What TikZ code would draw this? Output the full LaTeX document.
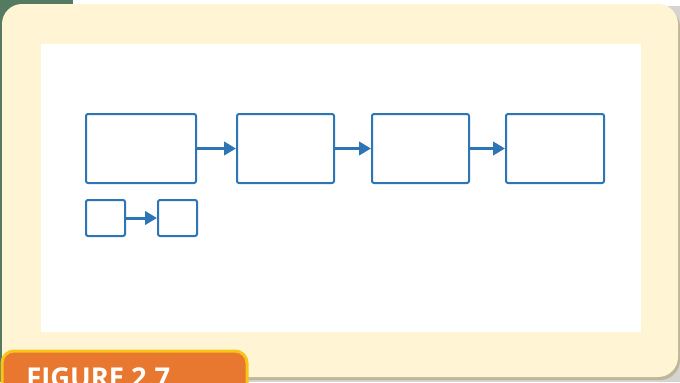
\documentclass[tikz,border=0pt]{standalone}
\usepackage{fontspec}
\usepackage{tikz}
\usetikzlibrary{arrows.meta}
\newfontfamily\figfont{Open Sans}
\definecolor{boxblue}{RGB}{46,117,182}
\definecolor{panelcream}{RGB}{255,245,212}
\definecolor{shadowtan}{RGB}{190,182,152}
\definecolor{bggreen}{RGB}{84,122,98}
\definecolor{bggray}{RGB}{212,212,208}
\definecolor{tagorange}{RGB}{232,120,48}
\definecolor{tagyellow}{RGB}{248,196,24}
\begin{document}
\begin{tikzpicture}[x=0.75pt,y=0.75pt,yscale=-1,xscale=1,
  stepbox/.style={draw=boxblue,line width=1.5pt,rounded corners=1.5pt,fill=white,inner sep=0pt,anchor=north west},
  bigbox/.style={stepbox,minimum height=51.75pt},
  smallbox/.style={stepbox,minimum width=29.25pt,minimum height=27pt},
  flow/.style={draw=boxblue,line width=2.25pt,-{Triangle[length=9pt,width=10pt]}}]
\useasboundingbox (0,0) rectangle (680,382);
\clip (0,0) rectangle (680,382);
%Background
\fill[bggray] (0,0) rectangle (680,382);
\fill[white] (73,0) rectangle (680,6);
\fill[bggreen] (0,0) rectangle (73,382);
%Shape: Rounded Rectangle (shadow)
\fill[shadowtan] (4,7) [rounded corners=15pt] rectangle (680,380);
%Shape: Rounded Rectangle (panel)
\fill[panelcream] (2,4) [rounded corners=15pt] rectangle (678,377);
%Shape: Rectangle (inner)
\fill[white] (41,44) rectangle (641,332);
%Boxes
\node[bigbox,minimum width=82.5pt] (first) at (85,113) {};
\node[bigbox,minimum width=72.75pt] (second) at (236,113) {};
\node[bigbox,minimum width=72.75pt] (third) at (371,113) {};
\node[bigbox,minimum width=73.5pt] (fourth) at (505,113) {};
\node[smallbox] (left) at (85,199) {};
\node[smallbox] (right) at (157,199) {};
%Arrows
\draw[flow] (first) -- (second);
\draw[flow] (second) -- (third);
\draw[flow] (third) -- (fourth);
\draw[flow] (left) -- (right);
%Shape: Figure tag
\draw[fill=tagorange,draw=tagyellow,line width=2.25pt,rounded corners=9pt] (2,351) rectangle (247,400);
% Text Node
\node[anchor=base west,inner sep=0pt,text=white,font=\figfont\bfseries\fontsize{20.5pt}{24pt}\selectfont] (tag) at (26,387.5) {FIGURE 2.7};
\end{tikzpicture}
\end{document}
